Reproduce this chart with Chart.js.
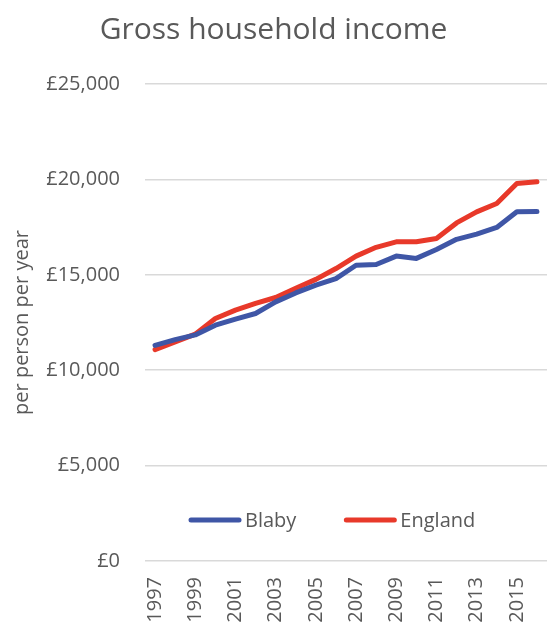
<!DOCTYPE html>
<html>
<head>
<meta charset="utf-8">
<script src="https://cdn.jsdelivr.net/npm/chart.js@4.4.0/dist/chart.umd.min.js"></script>
<style>
  html, body { margin: 0; padding: 0; background: #fff; }
  #wrap { width: 547px; height: 624px; }
</style>
</head>
<body>
<div id="wrap"><canvas id="myChart"></canvas></div>
<script>
// Chart data
const years = ['1997', '1998', '1999', '2000', '2001', '2002', '2003', '2004', '2005', '2006',
               '2007', '2008', '2009', '2010', '2011', '2012', '2013', '2014', '2015', '2016'];
const blaby = [11300, 11600, 11850, 12360, 12680, 12970, 13580, 14050, 14460, 14800,
               15500, 15540, 15980, 15860, 16330, 16860, 17130, 17480, 18300, 18320];
const england = [11080, 11480, 11890, 12710, 13150, 13500, 13810, 14290, 14760, 15330,
                 15980, 16440, 16730, 16730, 16900, 17720, 18300, 18740, 19790, 19880];
const seriesNames = ['Blaby', 'England'];
const yTicks = [0, 5000, 10000, 15000, 20000, 25000];

const textColor = '#595959';
const fontFamily = "'Open Sans', sans-serif";

// Legend drawn inside the plot area, near the bottom
const insideLegend = {
    id: 'insideLegend',
    afterDraw(chart) {
        const ctx = chart.ctx;
        const area = chart.chartArea;
        let x = area.left + 44;
        const y = area.bottom - 41;
        ctx.save();
        ctx.font = '20px ' + fontFamily;
        ctx.textBaseline = 'middle';
        ctx.textAlign = 'left';
        chart.data.datasets.forEach(ds => {
            ctx.strokeStyle = ds.borderColor;
            ctx.lineWidth = 5;
            ctx.lineCap = 'round';
            ctx.beginPath();
            ctx.moveTo(x + 2, y);
            ctx.lineTo(x + 50, y);
            ctx.stroke();
            ctx.fillStyle = textColor;
            ctx.fillText(ds.label, x + 56, y + 1);
            x += 56 + ctx.measureText(ds.label).width + 48;
        });
        ctx.restore();
    }
};

const ctx = document.getElementById('myChart').getContext('2d');
new Chart(ctx, {
    type: 'line',
    data: {
        labels: years,
        datasets: [
            { label: seriesNames[0], data: blaby, borderColor: '#3F56A6', backgroundColor: '#3F56A6' },
            { label: seriesNames[1], data: england, borderColor: '#E8392A', backgroundColor: '#E8392A' }
        ]
    },
    options: {
        responsive: true,
        maintainAspectRatio: false,
        animation: false,
        layout: { padding: { left: 0, right: 0, top: 0, bottom: 0 } },
        elements: {
            point: { radius: 0 },
            line: { borderWidth: 5, tension: 0, borderCapStyle: 'round', borderJoinStyle: 'round' }
        },
        scales: {
            x: {
                offset: true,
                grid: { display: false, drawTicks: false },
                border: { display: false },
                ticks: {
                    autoSkip: false,
                    maxRotation: 90,
                    minRotation: 90,
                    padding: 16,
                    color: textColor,
                    font: { family: fontFamily, size: 20 },
                    callback: function(value, index) {
                        return index % 2 === 0 ? this.getLabelForValue(value) : '';
                    }
                },
                afterFit: s => {
                    s.height = 63;
                    s.paddingLeft = 0;
                    s.paddingRight = 0;
                }
            },
            y: {
                min: 0,
                max: 25000,
                grid: { color: '#d9d9d9', lineWidth: 1.5, drawTicks: false },
                border: { display: false },
                afterBuildTicks: s => { s.ticks = yTicks.map(v => ({ value: v })); },
                ticks: {
                    padding: 25,
                    color: textColor,
                    font: { family: fontFamily, size: 20 },
                    callback: v => '£' + v.toLocaleString('en-GB')
                },
                title: {
                    display: true,
                    text: 'per person per year',
                    color: textColor,
                    font: { family: fontFamily, size: 20 },
                    padding: { top: 10, bottom: 0 }
                },
                afterFit: s => { s.width = 145; }
            }
        },
        plugins: {
            legend: { display: false },
            tooltip: { enabled: false },
            title: {
                display: true,
                text: 'Gross household income',
                color: textColor,
                font: { family: fontFamily, size: 30, weight: 'normal' },
                padding: { top: 12, bottom: 36 }
            }
        }
    },
    plugins: [insideLegend]
});
</script>
</body>
</html>
